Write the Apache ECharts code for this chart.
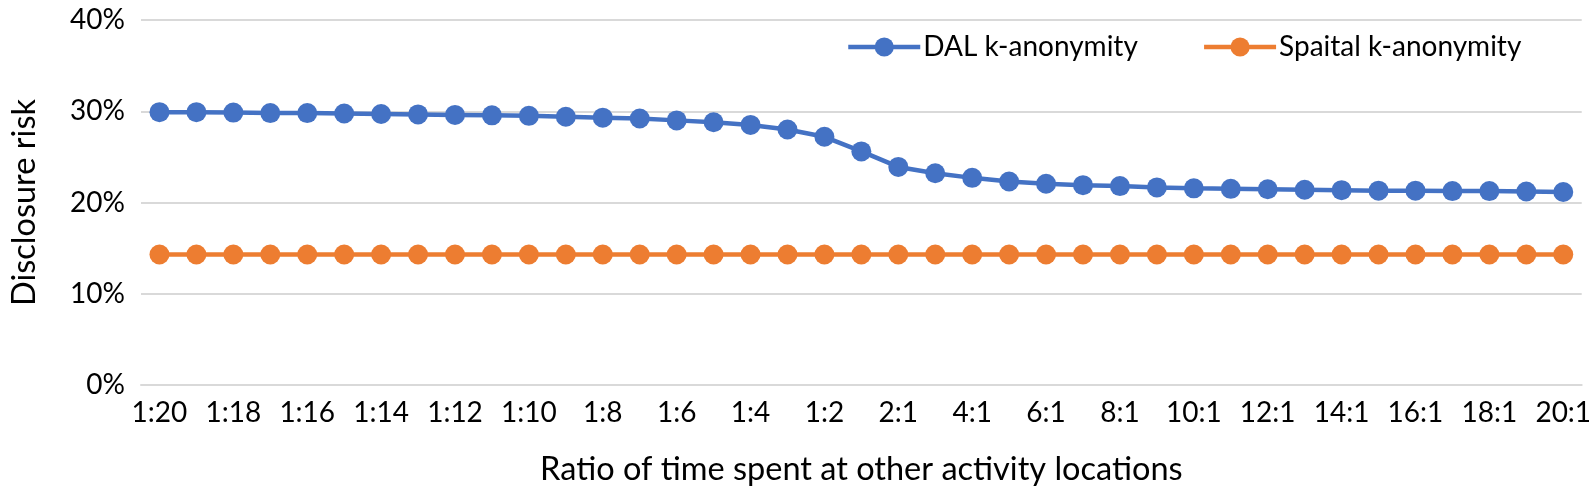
<!DOCTYPE html>
<html>
<head>
<meta charset="utf-8">
<script src="https://cdn.jsdelivr.net/npm/echarts@6/dist/echarts.min.js"></script>
<style>
html,body{margin:0;padding:0;background:#fff;}
#chart{width:1594px;height:491px;}
</style>
</head>
<body>
<div id="chart"></div>
<script>
const categories = ['1:20','1:19','1:18','1:17','1:16','1:15','1:14','1:13','1:12','1:11','1:10','1:9','1:8','1:7','1:6','1:5','1:4','1:3','1:2','1:1','2:1','3:1','4:1','5:1','6:1','7:1','8:1','9:1','10:1','11:1','12:1','13:1','14:1','15:1','16:1','17:1','18:1','19:1','20:1'];
const dalValues = [29.9,29.9,29.85,29.8,29.8,29.75,29.7,29.65,29.6,29.55,29.5,29.4,29.3,29.2,29.0,28.8,28.5,28.0,27.2,25.6,23.9,23.2,22.7,22.3,22.05,21.9,21.8,21.65,21.55,21.5,21.45,21.4,21.35,21.3,21.3,21.25,21.25,21.2,21.15];
const spatialValues = [14.3,14.3,14.3,14.3,14.3,14.3,14.3,14.3,14.3,14.3,14.3,14.3,14.3,14.3,14.3,14.3,14.3,14.3,14.3,14.3,14.3,14.3,14.3,14.3,14.3,14.3,14.3,14.3,14.3,14.3,14.3,14.3,14.3,14.3,14.3,14.3,14.3,14.3,14.3];
const seriesNames = ['DAL k-anonymity','Spaital k-anonymity'];
const xTitle = 'Ratio of time spent at other activity locations';
const yTitle = 'Disclosure risk';

const FONT = 'Lato, "Open Sans", sans-serif';
const chart = echarts.init(document.getElementById('chart'), null, {renderer:'canvas'});
chart.setOption({
  animation:false,
  backgroundColor:'#ffffff',
  textStyle:{fontFamily:FONT,color:'#000'},
  grid:{left:133,right:12,top:20,bottom:103,containLabel:false},
  legend:{
    left:841, top:28,
    itemWidth:72, itemHeight:24, itemGap:64,
    lineStyle:{width:4.5},
    textStyle:{fontFamily:FONT,fontSize:28,color:'#000',padding:[0,0,0,-2]},
    data:seriesNames
  },
  xAxis:{
    type:'category',
    data:categories,
    boundaryGap:true,
    axisTick:{show:false},
    axisLine:{show:true,lineStyle:{color:'#D9D9D9',width:2}},
    axisLabel:{interval:1,fontFamily:FONT,fontSize:28,color:'#000',margin:14},
    name:xTitle,
    nameLocation:'middle',
    nameGap:68,
    nameTextStyle:{fontFamily:FONT,fontSize:32.5,color:'#000'}
  },
  yAxis:{
    type:'value',
    min:0,max:40,interval:10,
    axisLine:{show:false},
    axisTick:{show:false},
    splitLine:{lineStyle:{color:'#D9D9D9',width:2}},
    axisLabel:{formatter:'{value}%',fontFamily:FONT,fontSize:28,color:'#000',margin:16},
    name:yTitle,
    nameLocation:'middle',
    nameGap:100,
    nameRotate:90,
    nameTextStyle:{fontFamily:FONT,fontSize:32.5,color:'#000'}
  },
  series:[
    {
      name:seriesNames[0], type:'line', data:dalValues,
      symbol:'circle', symbolSize:20,
      lineStyle:{color:'#4472C4',width:4.5},
      itemStyle:{color:'#4472C4'}
    },
    {
      name:seriesNames[1], type:'line', data:spatialValues,
      symbol:'circle', symbolSize:20,
      lineStyle:{color:'#ED7D31',width:4.5},
      itemStyle:{color:'#ED7D31'}
    }
  ]
});
</script>
</body>
</html>
